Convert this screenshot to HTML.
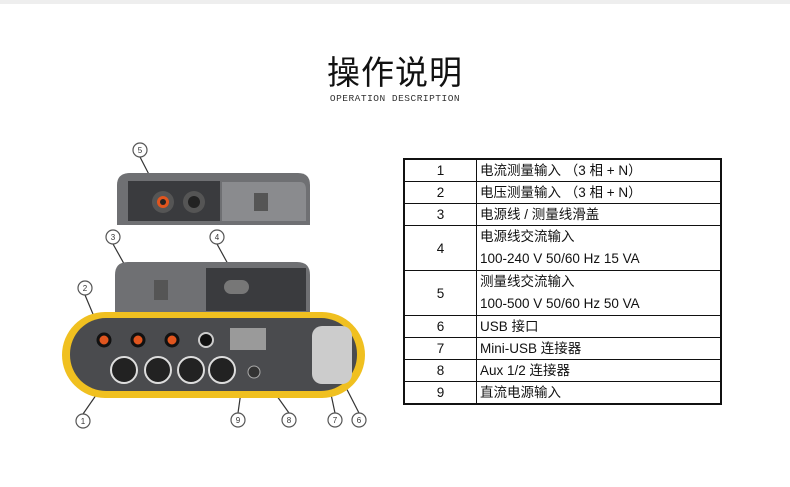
<!DOCTYPE html><html><head><meta charset="utf-8"><style>
body{margin:0;width:790px;height:487px;background:#fff;position:relative;overflow:hidden;font-family:"Liberation Sans","Noto Sans CJK SC",sans-serif}
.topbar{position:absolute;left:0;top:0;width:790px;height:4px;background:#eee}
h1{position:absolute;left:0;width:790px;top:46px;margin:0;text-align:center;font-size:33px;font-weight:normal;color:#111;letter-spacing:1px}
.sub{position:absolute;left:0;width:790px;top:93px;text-align:center;font-family:"Liberation Mono",monospace;font-size:9.5px;color:#333;letter-spacing:.5px}
table{position:absolute;left:403px;top:158px;width:319px;border-collapse:collapse;border:2px solid #111;font-size:13.5px;color:#111}
td{border:1px solid #111;padding:0 3px;height:21px;line-height:21px}
td:first-child{width:65px;text-align:center}
</style></head><body>
<div class="topbar"></div>
<h1>操作说明</h1>
<div class="sub">OPERATION DESCRIPTION</div>
<svg style="position:absolute;left:0;top:0" width="400" height="487">
<g stroke="#333" stroke-width="1.2" fill="none">
<line x1="140" y1="157" x2="157" y2="190"/>
<line x1="113" y1="244" x2="132" y2="278"/>
<line x1="217" y1="244" x2="234" y2="275"/>
<line x1="85" y1="295" x2="103" y2="338"/>
<line x1="83" y1="414" x2="110" y2="375"/>
<line x1="238" y1="413" x2="248" y2="342"/>
<line x1="289" y1="413" x2="262" y2="375"/>
<line x1="335" y1="413" x2="325" y2="366"/>
<line x1="359" y1="413" x2="336" y2="368"/>
</g>
<!-- top panel -->
<path d="M117 225 L117 185 Q117 173 130 173 L298 173 Q310 173 310 185 L310 225 Z" fill="#6f7073"/>
<rect x="128" y="181" width="92" height="40" fill="#3a3b3e"/>
<path d="M222 182 L300 182 Q306 182 306 190 L306 221 L222 221 Z" fill="#8a8b8e"/>
<circle cx="163" cy="202" r="11" fill="#555"/><circle cx="163" cy="202" r="6" fill="#e0551e"/><circle cx="163" cy="202" r="3" fill="#222"/>
<circle cx="194" cy="202" r="11" fill="#555"/><circle cx="194" cy="202" r="6" fill="#222"/>
<rect x="254" y="193" width="14" height="18" fill="#555"/>
<!-- middle panel -->
<path d="M115 313 L115 275 Q115 262 128 262 L297 262 Q310 262 310 275 L310 313 Z" fill="#6f7073"/>
<rect x="206" y="268" width="100" height="43" fill="#3a3b3e"/>
<rect x="154" y="280" width="14" height="20" fill="#555"/>
<rect x="224" y="280" width="25" height="14" rx="7" fill="#777"/>
<!-- main -->
<rect x="62" y="312" width="303" height="86" rx="43" fill="#f0c020"/>
<rect x="70" y="318" width="287" height="73" rx="36" fill="#4a4b4e"/>
<rect x="312" y="326" width="40" height="58" rx="10" fill="#ccc"/>
<rect x="230" y="328" width="36" height="22" fill="#9a9a9a"/>
<g fill="#222" stroke="#ddd" stroke-width="2">
<circle cx="124" cy="370" r="13"/><circle cx="158" cy="370" r="13"/><circle cx="191" cy="370" r="13"/><circle cx="222" cy="370" r="13"/>
</g>
<g fill="#e0551e" stroke="#111" stroke-width="3">
<circle cx="104" cy="340" r="6"/><circle cx="138" cy="340" r="6"/><circle cx="172" cy="340" r="6"/>
</g>
<circle cx="206" cy="340" r="7" fill="#111" stroke="#ccc" stroke-width="2"/>
<circle cx="254" cy="372" r="6" fill="#333" stroke="#aaa"/>
<g fill="#fff" stroke="#555" stroke-width="1.2">
<circle cx="140" cy="150" r="7"/><circle cx="113" cy="237" r="7"/><circle cx="217" cy="237" r="7"/><circle cx="85" cy="288" r="7"/>
<circle cx="83" cy="421" r="7"/><circle cx="238" cy="420" r="7"/><circle cx="289" cy="420" r="7"/><circle cx="335" cy="420" r="7"/><circle cx="359" cy="420" r="7"/>
</g>
<g font-size="8" fill="#333" text-anchor="middle" font-family="Liberation Sans">
<text x="140" y="153">5</text><text x="113" y="240">3</text><text x="217" y="240">4</text><text x="85" y="291">2</text>
<text x="83" y="424">1</text><text x="238" y="423">9</text><text x="289" y="423">8</text><text x="335" y="423">7</text><text x="359" y="423">6</text>
</g>
</svg>
<table>
<tr><td>1</td><td>电流测量输入 （3 相 + N）</td></tr>
<tr><td>2</td><td>电压测量输入 （3 相 + N）</td></tr>
<tr><td>3</td><td>电源线 / 测量线滑盖</td></tr>
<tr><td>4</td><td style="height:43px;line-height:22px">电源线交流输入<br>100-240 V 50/60 Hz 15 VA</td></tr>
<tr><td>5</td><td style="height:43px;line-height:22px">测量线交流输入<br>100-500 V 50/60 Hz 50 VA</td></tr>
<tr><td>6</td><td>USB 接口</td></tr>
<tr><td>7</td><td>Mini-USB 连接器</td></tr>
<tr><td>8</td><td>Aux 1/2 连接器</td></tr>
<tr><td>9</td><td>直流电源输入</td></tr>
</table>
</body></html>
